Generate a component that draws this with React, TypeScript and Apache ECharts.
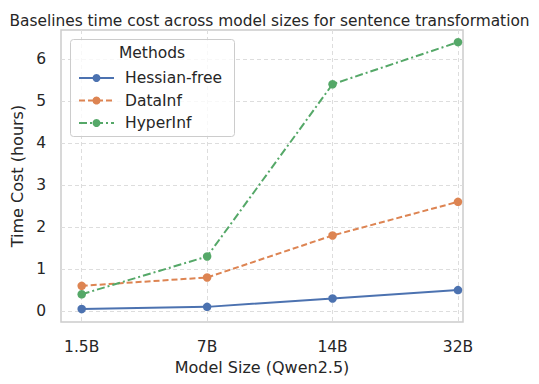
import React, { useEffect, useRef } from "react";
import * as echarts from "echarts";

const categories = ["1.5B", "7B", "14B", "32B"];
const hessianFree = [0.05, 0.1, 0.3, 0.5];
const dataInf = [0.6, 0.8, 1.8, 2.6];
const hyperInf = [0.4, 1.3, 5.4, 6.4];
const yTicks = [0, 1, 2, 3, 4, 5, 6];

const FONT = "DejaVu Sans";
const TXT = "#262626";

export default function App() {
  const ref = useRef<HTMLDivElement>(null);
  useEffect(() => {
    if (!ref.current) return;
    const chart = echarts.init(ref.current, undefined, { renderer: "svg" });
    const toPts = (arr: number[]) => arr.map((v, i) => [i, v]);
    const mk = (name: string, data: number[], color: string, type: any) => ({
      name,
      type: "line",
      data: toPts(data),
      symbol: "circle",
      symbolSize: 8.5,
      itemStyle: { color },
      lineStyle: { color, width: 2, type },
      z: 2,
    });
    chart.setOption({
      animation: false,
      backgroundColor: "#ffffff",
      textStyle: { fontFamily: FONT },
      title: {
        text: "Baselines time cost across model sizes for sentence transformation",
        left: "center",
        top: 8,
        textStyle: { fontFamily: FONT, fontSize: 15.4, fontWeight: "normal", color: TXT },
      },
      grid: {
        left: 61,
        right: 76,
        top: 30,
        bottom: 62,
        show: true,
        borderColor: "#cccccc",
        borderWidth: 1.5,
        backgroundColor: "#ffffff",
      },
      xAxis: {
        type: "value",
        min: -0.165,
        max: 3.04,
        name: "Model Size (Qwen2.5)",
        nameLocation: "middle",
        nameGap: 36,
        nameTextStyle: { fontFamily: FONT, fontSize: 16, color: TXT },
        axisLine: { show: false },
        axisTick: { show: false, customValues: [0, 1, 2, 3] },
        axisLabel: {
          customValues: [0, 1, 2, 3],
          formatter: (v: number) => categories[Math.round(v)] ?? "",
          fontFamily: FONT,
          fontSize: 15.5,
          color: TXT,
          margin: 17,
        },
        splitLine: { show: true, lineStyle: { color: "#dddddd", type: [4, 3], width: 1 } },
      },
      yAxis: {
        type: "value",
        min: -0.26,
        max: 6.69,
        name: "Time Cost (hours)",
        nameLocation: "middle",
        nameGap: 31,
        nameTextStyle: { fontFamily: FONT, fontSize: 16, color: TXT },
        axisLine: { show: false },
        axisTick: { show: false, customValues: yTicks },
        axisLabel: {
          customValues: yTicks,
          formatter: (v: number) => String(Math.round(v)),
          fontFamily: FONT,
          fontSize: 15.5,
          color: TXT,
          margin: 15,
        },
        splitLine: { show: true, lineStyle: { color: "#dddddd", type: [4, 3], width: 1 } },
      },
      legend: {
        orient: "vertical",
        left: 73,
        top: 65,
        z: 20,
        itemWidth: 35,
        itemHeight: 10,
        itemGap: 6.5,
        textStyle: { fontFamily: FONT, fontSize: 15.5, color: TXT, padding: [0, 0, 0, 6] },
        data: ["Hessian-free", "DataInf", "HyperInf"],
      },
      graphic: [
        {
          type: "rect",
          shape: { x: 70.5, y: 39.5, width: 164, height: 97, r: 3 },
          style: { fill: "rgba(255,255,255,0.8)", stroke: "#cccccc", lineWidth: 1 },
          z: 10,
        },
        {
          type: "text",
          x: 152,
          y: 53,
          style: {
            text: "Methods",
            fontFamily: FONT,
            fontSize: 15.5,
            fill: TXT,
            align: "center",
            verticalAlign: "middle",
          },
          z: 11,
        },
      ],
      series: [
        mk("Hessian-free", hessianFree, "#4c72b0", "solid"),
        mk("DataInf", dataInf, "#dd8452", [6, 3]),
        mk("HyperInf", hyperInf, "#55a868", [8, 3, 2, 3]),
      ],
    });
    return () => chart.dispose();
  }, []);
  return <div ref={ref} style={{ width: 539, height: 384, margin: -8 }} />;
}
